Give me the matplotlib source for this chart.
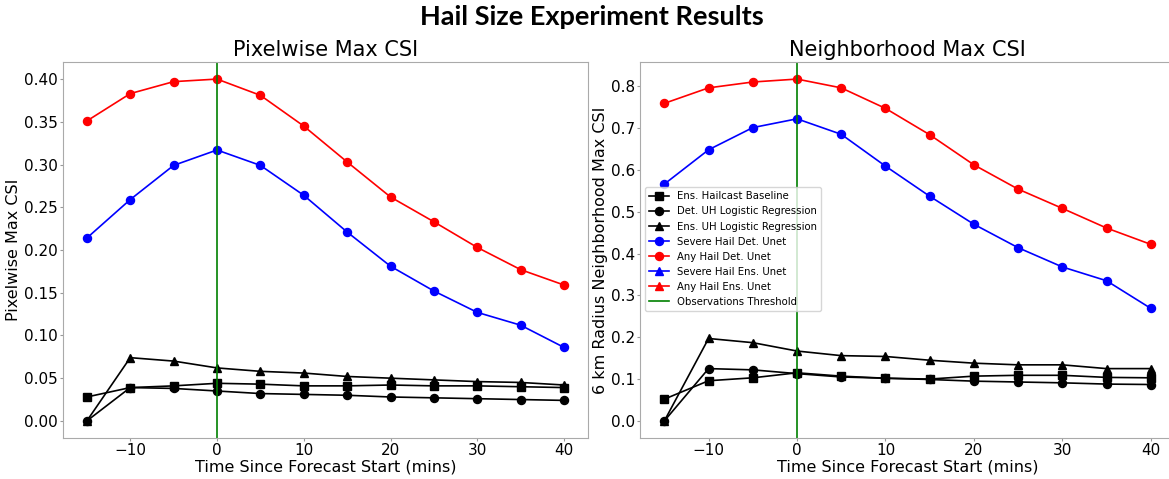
import matplotlib.pyplot as plt
import numpy as np

# Forecast lead times (mins)
times = [-15, -10, -5, 0, 5, 10, 15, 20, 25, 30, 35, 40]

# Pixelwise max CSI
pix_hailcast = [0.028, 0.039, 0.041, 0.044, 0.043, 0.041, 0.041, 0.042, 0.041, 0.041, 0.040, 0.039]
pix_det_uh = [0.000, 0.039, 0.038, 0.035, 0.032, 0.031, 0.030, 0.028, 0.027, 0.026, 0.025, 0.024]
pix_ens_uh = [0.000, 0.074, 0.070, 0.062, 0.058, 0.056, 0.052, 0.050, 0.048, 0.046, 0.045, 0.042]
pix_severe_det = [0.214, 0.259, 0.299, 0.317, 0.299, 0.264, 0.221, 0.181, 0.152, 0.127, 0.112, 0.086]
pix_any_det = [0.351, 0.383, 0.397, 0.400, 0.381, 0.345, 0.303, 0.262, 0.233, 0.203, 0.177, 0.159]

# Neighborhood max CSI
nb_hailcast = [0.052, 0.096, 0.103, 0.115, 0.107, 0.102, 0.100, 0.107, 0.109, 0.109, 0.104, 0.103]
nb_det_uh = [0.000, 0.125, 0.122, 0.113, 0.105, 0.102, 0.099, 0.095, 0.093, 0.091, 0.088, 0.087]
nb_ens_uh = [0.000, 0.197, 0.187, 0.167, 0.156, 0.154, 0.145, 0.138, 0.134, 0.134, 0.125, 0.125]
nb_severe_det = [0.566, 0.648, 0.701, 0.722, 0.685, 0.609, 0.537, 0.470, 0.414, 0.368, 0.335, 0.269]
nb_any_det = [0.759, 0.796, 0.810, 0.817, 0.796, 0.747, 0.684, 0.612, 0.554, 0.508, 0.461, 0.422]

# Ensemble Unet curves are not visible in the figure (legend only)
ens_unet_empty = []

obs_threshold = 0

fig = plt.figure(figsize=(11.69, 4.79), dpi=100)
ax1 = fig.add_axes([0.0539, 0.0856, 0.449, 0.785])
ax2 = fig.add_axes([0.5475, 0.0856, 0.4577, 0.785])

panels = [
    (ax1, pix_hailcast, pix_det_uh, pix_ens_uh, pix_severe_det, pix_any_det,
     "Pixelwise Max CSI", "Pixelwise Max CSI"),
    (ax2, nb_hailcast, nb_det_uh, nb_ens_uh, nb_severe_det, nb_any_det,
     "Neighborhood Max CSI", "6 km Radius Neighborhood Max CSI"),
]

ms = 5.8
lw = 1.2
for ax, hc, det_uh, ens_uh, sev, anyh, title, ylabel in panels:
    ax.plot(times, hc, marker='s', color='black', ms=ms, lw=lw, label='Ens. Hailcast Baseline')
    ax.plot(times, det_uh, marker='o', color='black', ms=ms, lw=lw, label='Det. UH Logistic Regression')
    ax.plot(times, ens_uh, marker='^', color='black', ms=ms, lw=lw, label='Ens. UH Logistic Regression')
    ax.plot(times, sev, marker='o', color='blue', ms=ms, lw=lw, label='Severe Hail Det. Unet')
    ax.plot(times, anyh, marker='o', color='red', ms=ms, lw=lw, label='Any Hail Det. Unet')
    ax.plot(ens_unet_empty, ens_unet_empty, marker='^', color='blue', ms=ms, lw=lw, label='Severe Hail Ens. Unet')
    ax.plot(ens_unet_empty, ens_unet_empty, marker='^', color='red', ms=ms, lw=lw, label='Any Hail Ens. Unet')
    ax.axvline(obs_threshold, color='green', lw=1.2, label='Observations Threshold')
    ax.set_title(title, fontsize=15, pad=4)
    ax.set_ylabel(ylabel, fontsize=11.5, labelpad=2)
    ax.set_xlabel("Time Since Forecast Start (mins)", fontsize=11.5, labelpad=1)
    ax.tick_params(labelsize=11, color='#999999', length=2, pad=1.5)
    for sp in ax.spines.values():
        sp.set_color('#aaaaaa')

ax1.set_xlim(-17.75, 42.75)
ax2.set_xlim(-17.75, 42.75)

ax2.legend(loc='lower left', bbox_to_anchor=(0.009, 0.338), borderaxespad=0,
           fontsize=7.3, handlelength=2.0)

fig.text(592 / 1169, 1 - 17 / 479, "Hail Size Experiment Results", ha='center', va='center',
         fontsize=19.5, fontweight='bold', family='Lato')

fig.savefig("out.png", dpi=100)
